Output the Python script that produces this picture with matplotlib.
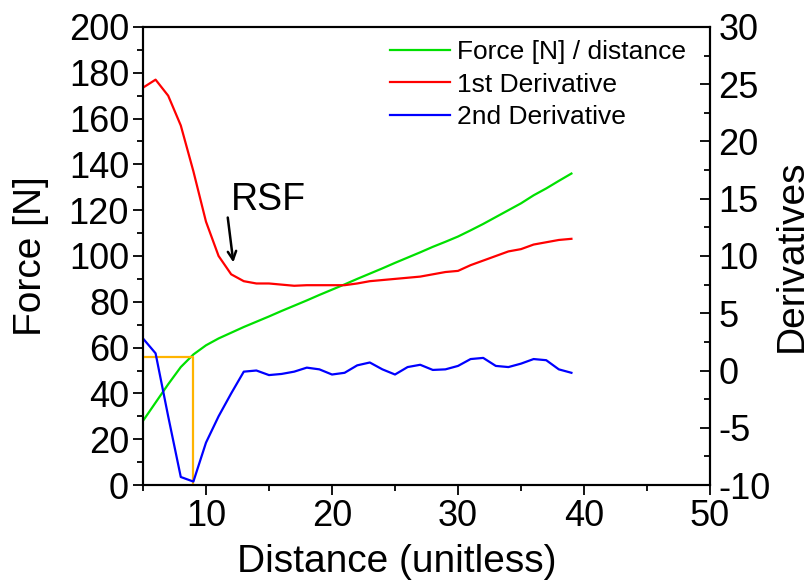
import matplotlib.pyplot as plt
from matplotlib.ticker import MultipleLocator

plt.rcParams['font.family'] = ['Liberation Sans', 'DejaVu Sans']
plt.rcParams['axes.unicode_minus'] = False

# distance samples
distance = list(range(5, 40))

# force per distance [N], left axis
force = [28, 36, 44, 51.5, 57, 61, 64, 66.5, 69, 71.3, 73.6, 76, 78.3, 80.6,
         83, 85.3, 87.6, 90, 92.3, 94.6, 97, 99.3, 101.6, 104, 106.2, 108.5,
         111.2, 114, 117, 120, 123, 126.5, 129.5, 132.8, 136]

# 1st derivative (right axis)
first_deriv = [24.7, 25.4, 24.0, 21.4, 17.4, 13.0, 10.0, 8.4, 7.8, 7.6, 7.6,
               7.5, 7.4, 7.45, 7.45, 7.45, 7.45, 7.6, 7.8, 7.9, 8.0, 8.1, 8.2,
               8.4, 8.6, 8.7, 9.2, 9.6, 10.0, 10.4, 10.6, 11.0, 11.2, 11.4, 11.5]

# 2nd derivative (right axis)
second_deriv = [2.8, 1.5, -4.0, -9.3, -9.7, -6.3, -4.0, -2.0, -0.1, 0.0, -0.4,
                -0.3, -0.1, 0.25, 0.1, -0.35, -0.2, 0.45, 0.7, 0.1, -0.35, 0.3,
                0.5, 0.05, 0.1, 0.4, 1.0, 1.1, 0.4, 0.3, 0.6, 1.0, 0.9, 0.1, -0.2]

# RSF marker (yellow guide lines)
rsf_x = 9
rsf_force = 56

fig = plt.figure(figsize=(8.11, 5.84), dpi=100)
ax = fig.add_axes([0.1763, 0.1695, 0.6992, 0.7843])
ax2 = ax.twinx()

l1, = ax.plot(distance, force, color='#00e000', lw=1.6, label='Force [N] / distance')
l2, = ax2.plot(distance, first_deriv, color='#ff0000', lw=1.6, label='1st Derivative')
l3, = ax2.plot(distance, second_deriv, color='#0000ff', lw=1.6, label='2nd Derivative')
ax.plot([5, rsf_x, rsf_x], [rsf_force, rsf_force, 0], color='#ffb400', lw=1.6, zorder=5)

ax.set_xlim(5, 50)
ax.set_ylim(0, 200)
ax2.set_ylim(-10, 30)

ax.xaxis.set_major_locator(MultipleLocator(10))
ax.xaxis.set_minor_locator(MultipleLocator(5))
ax.yaxis.set_major_locator(MultipleLocator(20))
ax.yaxis.set_minor_locator(MultipleLocator(10))
ax2.yaxis.set_major_locator(MultipleLocator(5))
ax2.yaxis.set_minor_locator(MultipleLocator(2.5))

ax.set_xticks([10, 20, 30, 40, 50])
ax.tick_params(axis='both', which='major', direction='out', length=7, width=1.3,
               labelsize=26, pad=3)
ax.tick_params(axis='both', which='minor', direction='out', length=4, width=1.3)
ax2.tick_params(axis='y', which='major', direction='in', length=7, width=1.3,
                labelsize=26, pad=6)
ax2.tick_params(axis='y', which='minor', direction='in', length=4, width=1.3)

for a in (ax, ax2):
    for s in a.spines.values():
        s.set_linewidth(1.5)

ax.set_xlabel('Distance (unitless)', fontsize=28)
ax.xaxis.set_label_coords(0.448, -0.128)
ax.set_ylabel('Force [N]', fontsize=28, labelpad=14)
ax2.set_ylabel('Derivatives', fontsize=28, labelpad=2)

ax.annotate('', xy=(12.2, 96), xytext=(11.7, 118),
            arrowprops=dict(arrowstyle='->,head_length=0.6,head_width=0.3',
                            color='black', lw=1.8))
ax.text(11.95, 120, 'RSF', fontsize=27)

ax.legend(handles=[l1, l2, l3], loc='upper left', bbox_to_anchor=(0.435, 0.972),
          frameon=False, fontsize=19, handlelength=2.3, handletextpad=0.25,
          labelspacing=0.33, borderaxespad=0.0, borderpad=0.0)

fig.savefig('out.png', dpi=100)
